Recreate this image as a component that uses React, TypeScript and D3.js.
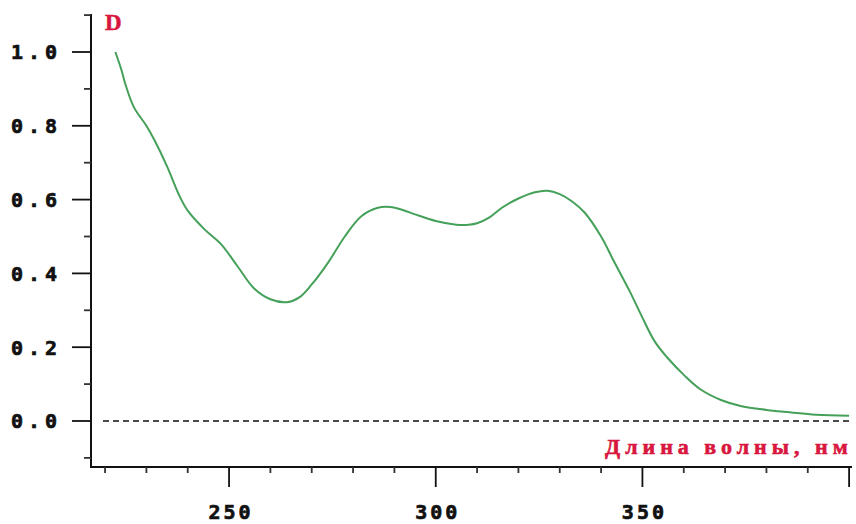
import React, { useEffect, useRef } from 'react';
import * as d3 from 'd3';

// absorption spectrum
const wavelengths = [
  222.5, 224, 225, 227, 230, 232, 235, 238, 240, 244, 248, 252, 256, 260, 264, 267, 270,
  274, 278, 282, 286, 289, 292, 295, 300, 305, 308, 310, 313, 316, 320, 324, 327, 330,
  333, 336, 340, 343, 347, 350, 353, 356, 360, 364, 369, 374, 380, 386, 392, 400,
];
const absorbance = [
  1.0, 0.95, 0.91, 0.85, 0.8, 0.76, 0.69, 0.61, 0.57, 0.52, 0.48, 0.42, 0.36, 0.33, 0.322,
  0.335, 0.37, 0.43, 0.5, 0.555, 0.578, 0.58, 0.572, 0.56, 0.542, 0.532, 0.532, 0.536,
  0.552, 0.578, 0.603, 0.62, 0.624, 0.615, 0.595, 0.565, 0.5, 0.435, 0.35, 0.28, 0.215,
  0.172, 0.125, 0.086, 0.057, 0.04, 0.03, 0.023, 0.017, 0.014,
];

const xMajorTicks = [250, 300, 350, 400];
const xTickLabels = ['250', '300', '350'];
const xMinorTicks = [220, 230, 240, 260, 270, 280, 290, 310, 320, 330, 340, 360, 370, 380, 390];
const yMajorTicks = [0, 0.2, 0.4, 0.6, 0.8, 1.0];
const yTickLabels = ['0.0', '0.2', '0.4', '0.6', '0.8', '1.0'];
const yMinorTicks = [-0.1, 0.1, 0.3, 0.5, 0.7, 0.9, 1.1];

const yTitle = 'D';
const xTitle = 'Длина волны, нм';

export default function App() {
  const svgRef = useRef<SVGSVGElement>(null);
  const width = 856;
  const height = 524;

  useEffect(() => {
    if (!svgRef.current) return;
    const svg = d3.select(svgRef.current);
    svg.selectAll('*').remove();

    const axisX = 91;
    const axisY = 467;

    const x = d3.scaleLinear().domain([216.6, 400.7]).range([axisX, 852]);
    const y = d3.scaleLinear().domain([-0.1247, 1.103]).range([axisY, 14]);

    const red = '#d8163e';
    const monoFont = '"DejaVu Sans Mono", monospace';

    svg.append('defs')
      .append('clipPath')
      .attr('id', 'clip-right')
      .append('rect')
      .attr('x', 0)
      .attr('y', 0)
      .attr('width', 849)
      .attr('height', height);

    // zero line
    svg.append('line')
      .attr('x1', 103)
      .attr('x2', 850)
      .attr('y1', y(0))
      .attr('y2', y(0))
      .attr('stroke', '#111')
      .attr('stroke-width', 1.6)
      .attr('stroke-dasharray', '6,4');

    // axes lines
    svg.append('line')
      .attr('x1', axisX).attr('x2', axisX)
      .attr('y1', 14).attr('y2', axisY + 1)
      .attr('stroke', '#111').attr('stroke-width', 2);
    svg.append('line')
      .attr('x1', axisX).attr('x2', 852)
      .attr('y1', axisY).attr('y2', axisY)
      .attr('stroke', '#111').attr('stroke-width', 2);

    // y ticks
    svg.selectAll('.y-major')
      .data(yMajorTicks)
      .enter().append('line')
      .attr('x1', axisX - 19).attr('x2', axisX)
      .attr('y1', d => y(d)).attr('y2', d => y(d))
      .attr('stroke', '#111').attr('stroke-width', 1.8);
    svg.selectAll('.y-minor')
      .data(yMinorTicks)
      .enter().append('line')
      .attr('x1', axisX - 7).attr('x2', axisX)
      .attr('y1', d => y(d)).attr('y2', d => y(d))
      .attr('stroke', '#333').attr('stroke-width', 1.8);

    svg.selectAll('.y-label')
      .data(yMajorTicks)
      .enter().append('text')
      .attr('x', 57 + 5)
      .attr('y', d => y(d))
      .attr('dy', '0.37em')
      .attr('text-anchor', 'end')
      .style('font-family', monoFont)
      .style('font-weight', 'bold')
      .style('font-size', '20px')
      .style('letter-spacing', '5px')
      .style('fill', '#111')
      .style('stroke', '#111')
      .style('stroke-width', '0.7px')
      .text((d, i) => yTickLabels[i]);

    // x ticks
    svg.selectAll('.x-major')
      .data(xMajorTicks)
      .enter().append('line')
      .attr('x1', d => x(d)).attr('x2', d => x(d))
      .attr('y1', axisY).attr('y2', axisY + 20)
      .attr('stroke', '#111').attr('stroke-width', 1.8);
    svg.selectAll('.x-minor')
      .data(xMinorTicks)
      .enter().append('line')
      .attr('x1', d => x(d)).attr('x2', d => x(d))
      .attr('y1', axisY).attr('y2', axisY + 6)
      .attr('stroke', '#333').attr('stroke-width', 1.8);

    svg.selectAll('.x-label')
      .data(xTickLabels)
      .enter().append('text')
      .attr('x', (d, i) => x(xMajorTicks[i]) + 2)
      .attr('y', 519)
      .attr('text-anchor', 'middle')
      .style('font-family', monoFont)
      .style('font-weight', 'bold')
      .style('font-size', '20px')
      .style('letter-spacing', '3px')
      .style('fill', '#111')
      .style('stroke', '#111')
      .style('stroke-width', '0.7px')
      .text(d => d);

    // titles
    svg.append('text')
      .attr('x', 105)
      .attr('y', 30)
      .style('font-family', '"Liberation Serif", serif')
      .style('font-weight', 'bold')
      .style('font-size', '23px')
      .style('fill', red)
      .style('stroke', red)
      .style('stroke-width', '0.5px')
      .text(yTitle);

    svg.append('text')
      .attr('x', 605)
      .attr('y', 454)
      .attr('clip-path', 'url(#clip-right)')
      .style('font-family', '"Liberation Serif", serif')
      .style('font-weight', 'bold')
      .style('font-size', '22px')
      .style('letter-spacing', '5px')
      .style('fill', red)
      .style('stroke', red)
      .style('stroke-width', '0.6px')
      .text(xTitle);

    // spectrum
    const points: [number, number][] = wavelengths.map((w, i) => [w, absorbance[i]]);
    const line = d3.line<[number, number]>()
      .x(d => x(d[0]))
      .y(d => y(d[1]))
      .curve(d3.curveCatmullRom.alpha(0.5));

    svg.append('path')
      .datum(points)
      .attr('d', line)
      .attr('fill', 'none')
      .attr('stroke', '#45a05a')
      .attr('stroke-width', 2);
  }, []);

  return (
    <div style={{ position: 'absolute', left: 0, top: 0, background: '#fff' }}>
      <svg ref={svgRef} width={width} height={height} viewBox={`0 0 ${width} ${height}`} />
    </div>
  );
}
